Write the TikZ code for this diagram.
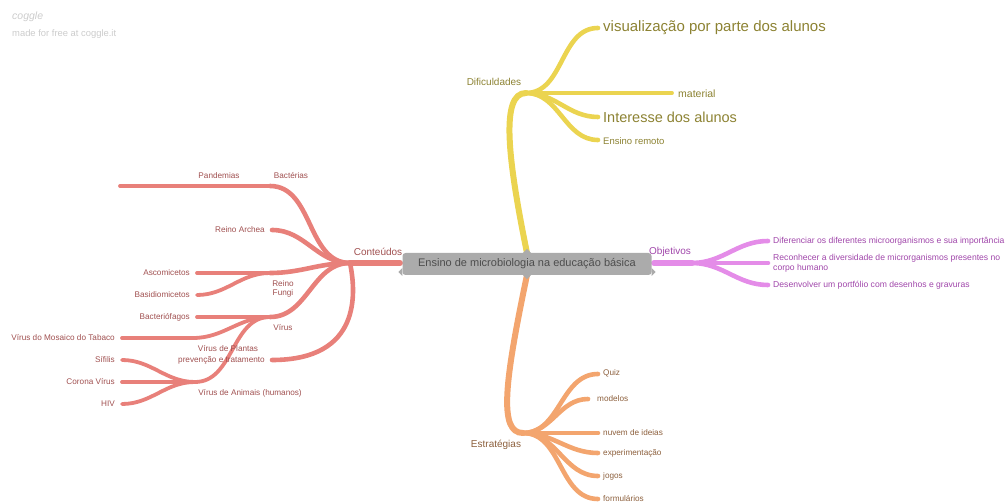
\documentclass[tikz,border=0pt]{standalone}
\usepackage{fontspec}
\setmainfont{Liberation Sans}
\definecolor{redline}{HTML}{E8807A}
\definecolor{redtext}{HTML}{A05050}
\definecolor{yelline}{HTML}{EBD450}
\definecolor{yeltext}{HTML}{8C8232}
\definecolor{oraline}{HTML}{F3A56E}
\definecolor{oratext}{HTML}{8C5F3C}
\definecolor{magline}{HTML}{E48CE8}
\definecolor{magtext}{HTML}{A046AA}
\definecolor{boxfill}{HTML}{ABABAB}
\definecolor{boxtext}{HTML}{4D4D4D}
\definecolor{wm}{HTML}{CCCCCC}
\begin{document}
\begin{tikzpicture}[x=1pt,y=-1pt,
  stem/.style={line width=6pt,line cap=round},
  br/.style={line width=4.6pt,line cap=round},
  leaf/.style={line width=3.8pt,line cap=round},
  lbl/.style={inner sep=0pt,font=\fontsize{8.2}{9.5}\selectfont},
  mlbl/.style={inner sep=0pt,font=\fontsize{8.6}{10}\selectfont},
  big/.style={inner sep=0pt,font=\fontsize{10}{12}\selectfont},
  rt/.style={text=redtext},
  yt/.style={text=yeltext},
  ot/.style={text=oratext},
  mt/.style={text=magtext},
  S/.style={out=180,in=0},
  E/.style={out=0,in=180}]
\useasboundingbox (0,0) rectangle (1008,502);

% watermark
\node[inner sep=0pt,text=wm,font=\itshape\fontsize{10.5}{12}\selectfont,anchor=west] (wm1) at (12,17) {coggle};
\node[inner sep=0pt,text=wm,font=\fontsize{9.4}{11}\selectfont,anchor=west] (wm2) at (12,34) {made for free at coggle.it};

% ---------- red (Conteúdos) ----------
\coordinate (cL) at (400,263);
\coordinate (cont) at (350,263);
\coordinate (bact) at (270,186);
\coordinate (pand) at (195,186);
\coordinate (pandL) at (120,186);
\coordinate (arch) at (272,230);
\coordinate (fung) at (270,273);
\coordinate (asco) at (197,273);
\coordinate (basi) at (197,295);
\coordinate (virus) at (270,317);
\coordinate (bacf) at (197,317);
\coordinate (vplant) at (193,338);
\coordinate (mosaic) at (122,338);
\coordinate (vanim) at (195,382);
\coordinate (sifi) at (122,360);
\coordinate (coro) at (122,382);
\coordinate (hiv) at (122,404);
\coordinate (prev) at (272,360);

\begin{scope}[draw=redline]
\draw[stem] (cL) -- (cont);
\draw[br] (cont) to[S] (bact);
\draw[br] (cont) to[S] (arch);
\draw[br] (cont) to[S] (fung);
\draw[br] (cont) to[S] (virus);
\draw[br] (cont) .. controls (356,292) and (362,360) .. (prev);
\draw[leaf] (bact) -- (pand);
\draw[leaf] (pand) -- (pandL);
\draw[leaf] (fung) -- (asco);
\draw[leaf] (fung) to[S] (basi);
\draw[leaf] (virus) -- (bacf);
\draw[leaf] (virus) to[S] (vplant);
\draw[leaf] (virus) to[S] (vanim);
\draw[leaf] (vplant) -- (mosaic);
\draw[leaf] (vanim) -- (coro);
\draw[leaf] (vanim) to[S] (sifi);
\draw[leaf] (vanim) to[S] (hiv);
\end{scope}

\node[big,rt] (tcont) at (378,252) {Conteúdos};
\node[lbl,rt] (tbact) at (291,176) {Bactérias};
\node[lbl,rt] (tpand) at (219,176) {Pandemias};
\node[lbl,rt,anchor=east] (tarch) at (265,230) {Reino Archea};
\node[lbl,rt,align=center] (tfung) at (283,289) {Reino\\Fungi};
\node[lbl,rt,anchor=east] (tasco) at (190,273) {Ascomicetos};
\node[lbl,rt,anchor=east] (tbasi) at (190,295) {Basidiomicetos};
\node[lbl,rt] (tvirus) at (283,328) {Vírus};
\node[lbl,rt,anchor=east] (tbacf) at (190,317) {Bacteriófagos};
\node[lbl,rt] (tvplant) at (228,349) {Vírus de Plantas};
\node[lbl,rt,anchor=east] (tmosaic) at (115,338) {Vírus do Mosaico do Tabaco};
\node[lbl,rt] (tvanim) at (250,393) {Vírus de Animais (humanos)};
\node[lbl,rt,anchor=east] (tsifi) at (115,360) {Sífilis};
\node[lbl,rt,anchor=east] (tcoro) at (115,382) {Corona Vírus};
\node[lbl,rt,anchor=east] (thiv) at (115,404) {HIV};
\node[lbl,rt,anchor=east] (tprev) at (265,360) {prevenção e tratamento};

% ---------- yellow (Dificuldades) ----------
\coordinate (cT) at (527,253);
\coordinate (dif) at (526,93);
\coordinate (visu) at (598,28);
\coordinate (matA) at (598,93);
\coordinate (mat) at (672,93);
\coordinate (inte) at (598,117);
\coordinate (remo) at (598,140);
\begin{scope}[draw=yelline]
\draw[stem] (cT) .. controls (508,160) and (500,93) .. (dif);
\draw[br] (dif) to[E] (visu);
\draw[br] (dif) -- (matA);
\draw[leaf] (matA) -- (mat);
\draw[br] (dif) to[E] (inte);
\draw[br] (dif) to[E] (remo);
\end{scope}
\node[big,yt] (tdif) at (494,82) {Dificuldades};
\node[inner sep=0pt,yt,anchor=west,font=\fontsize{15}{18}\selectfont] (tvisu) at (603,28) {visualização por parte dos alunos};
\node[inner sep=0pt,yt,anchor=west,font=\fontsize{10.5}{12}\selectfont] (tmat) at (678,94) {material};
\node[inner sep=0pt,yt,anchor=west,font=\fontsize{14.5}{17}\selectfont] (tinte) at (603,117) {Interesse dos alunos};
\node[inner sep=0pt,yt,anchor=west,font=\fontsize{9.5}{11}\selectfont] (tremo) at (603,141) {Ensino remoto};

% ---------- magenta (Objetivos) ----------
\coordinate (cR) at (654,263);
\coordinate (obj) at (692,263);
\coordinate (dife) at (768,241);
\coordinate (reco) at (768,263);
\coordinate (dese) at (768,285);
\begin{scope}[draw=magline]
\draw[stem] (cR) -- (obj);
\draw[br] (obj) to[E] (dife);
\draw[br] (obj) -- (reco);
\draw[br] (obj) to[E] (dese);
\end{scope}
\node[big,mt] (tobj) at (670,252) {Objetivos};
\node[mlbl,mt,anchor=west] (tdife) at (773,241) {Diferenciar os diferentes microorganismos e sua importância};
\node[mlbl,mt,anchor=west,align=left] (treco) at (773,263) {Reconhecer a diversidade de microrganismos presentes no\\corpo humano};
\node[mlbl,mt,anchor=west] (tdese) at (773,285) {Desenvolver um portfólio com desenhos e gravuras};

% ---------- orange (Estratégias) ----------
\coordinate (cB) at (527,275);
\coordinate (estr) at (523,433);
\coordinate (quiz) at (598,374);
\coordinate (mode) at (588,399);
\coordinate (nuve) at (598,433);
\coordinate (expe) at (598,453);
\coordinate (jogo) at (598,476);
\coordinate (form) at (598,499);
\begin{scope}[draw=oraline]
\draw[stem] (cB) .. controls (505,380) and (498,433) .. (estr);
\draw[br] (estr) to[E] (quiz);
\draw[br] (estr) to[E] (mode);
\draw[br] (estr) -- (nuve);
\draw[br] (estr) to[E] (expe);
\draw[br] (estr) to[E] (jogo);
\draw[br] (estr) to[E] (form);
\end{scope}
\node[big,ot] (testr) at (496,445) {Estratégias};
\node[lbl,ot,anchor=west] (tquiz) at (603,373) {Quiz};
\node[lbl,ot,anchor=west] (tmode) at (597,399) {modelos};
\node[lbl,ot,anchor=west] (tnuve) at (603,433) {nuvem de ideias};
\node[lbl,ot,anchor=west] (texpe) at (603,453) {experimentação};
\node[lbl,ot,anchor=west] (tjogo) at (603,476) {jogos};
\node[lbl,ot,anchor=west] (tform) at (603,499) {formulários};

% ---------- center ----------
\node[fill=boxfill,rounded corners=3pt,minimum width=249pt,minimum height=22pt,inner sep=0pt,
      text=boxtext,font=\fontsize{11}{13}\selectfont] (center) at (527,264) {Ensino de microbiologia na educação básica};
\fill[boxfill] ([yshift=-4pt]center.west) -- ++(-4,4) -- ++(4,4) -- cycle;
\fill[boxfill] ([yshift=-4pt]center.east) -- ++(4,4) -- ++(-4,4) -- cycle;
\fill[boxfill] ([xshift=-4pt]center.north) -- ++(4,-4) -- ++(4,4) -- cycle;
\fill[boxfill] ([xshift=-4pt]center.south) -- ++(4,4) -- ++(4,-4) -- cycle;
\end{tikzpicture}
\end{document}
